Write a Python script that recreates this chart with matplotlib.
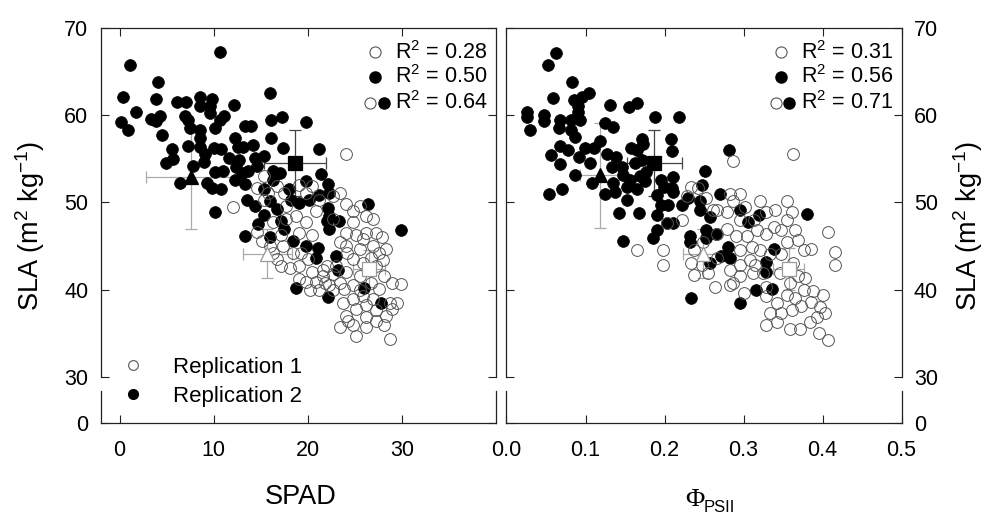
import matplotlib
matplotlib.use("Agg")
import matplotlib.pyplot as plt
from matplotlib.lines import Line2D

plt.rcParams["font.family"] = ["Liberation Sans", "DejaVu Sans"]
plt.rcParams["mathtext.fontset"] = "custom"
plt.rcParams["mathtext.rm"] = "Liberation Sans"
plt.rcParams["mathtext.it"] = "Liberation Sans:italic"
plt.rcParams["mathtext.bf"] = "Liberation Sans:bold"

# ---- SPAD panel, replication 1 (open) ----
spad_rep1 = [24.1, 12.1, 15.3, 15.8, 14.6, 15.3, 16.7, 17.5, 19.1, 19.8,
             20.5, 21.2, 22.7, 23.4, 24.1, 24.8, 25.5, 26.2, 26.9, 24.8,
             24.1, 25.1, 26.2, 27.3, 27.9, 28.3, 27.6, 26.9, 25.5, 24.1,
             24.8, 25.9, 27.3, 28.1, 29.0, 29.9, 29.5, 29.0, 28.3, 28.1,
             28.7, 27.3, 26.2, 25.1, 24.8, 23.4, 24.1, 25.1, 26.2, 26.9,
             25.9, 24.8, 23.7, 23.9, 24.8, 23.4, 22.3, 21.2, 20.2, 19.8,
             20.5, 21.6, 22.7, 22.0, 24.1, 23.0, 19.1, 18.1, 17.2, 16.3,
             17.4, 18.4, 19.3, 20.0, 15.1, 17.2, 19.1, 20.5, 19.8, 20.9,
             22.7, 17.7, 18.8, 16.3, 14.6, 17.7, 23.4, 24.2, 25.9, 26.7,
             28.0, 27.6, 26.7, 25.5, 28.7, 26.2, 27.3, 24.3, 25.5, 22.7,
             21.8, 19.1, 20.9, 21.6, 16.0, 16.7]
sla_spad_rep1 = [55.6, 49.5, 53.0, 51.1, 51.7, 50.3, 51.9, 51.1, 52.0, 51.1,
                 51.9, 50.3, 50.7, 51.1, 49.8, 49.0, 49.6, 48.4, 48.1, 47.7,
                 46.5, 46.2, 46.5, 46.5, 46.0, 44.6, 44.2, 45.0, 44.6, 45.0,
                 43.5, 43.1, 42.7, 41.6, 40.8, 40.6, 38.5, 37.8, 37.0, 35.9,
                 34.3, 36.4, 35.7, 34.7, 35.9, 35.7, 37.0, 37.8, 38.2, 38.9,
                 39.3, 38.9, 38.5, 40.1, 40.5, 40.8, 40.5, 40.0, 40.0, 40.9,
                 42.0, 41.6, 41.8, 42.7, 42.0, 42.7, 42.7, 42.5, 42.7, 44.2,
                 45.0, 44.2, 44.2, 43.5, 45.6, 46.2, 46.5, 46.3, 47.7, 49.0,
                 48.1, 48.1, 48.4, 47.7, 46.6, 49.6, 45.4, 44.2, 45.8, 43.6,
                 43.4, 40.1, 40.8, 41.6, 38.5, 36.9, 37.6, 36.4, 40.0, 39.9,
                 40.8, 41.2, 40.9, 42.2, 45.0, 43.5]

# ---- SPAD panel, replication 2 (filled) ----
spad_rep2 = [10.7, 1.1, 4.1, 0.4, 3.9, 1.7, 6.1, 7.1, 8.5, 8.6,
             9.8, 9.6, 12.2, 16.0, 17.3, 19.8, 16.1, 16.1, 0.2, 0.9,
             3.3, 4.3, 3.9, 4.5, 7.0, 7.3, 7.5, 8.6, 9.6, 10.7,
             11.1, 10.1, 5.6, 5.7, 4.9, 6.4, 7.3, 8.6, 8.5, 7.8,
             9.1, 9.0, 10.0, 10.1, 10.8, 11.0, 9.3, 9.8, 10.8, 10.1,
             11.6, 12.3, 12.6, 12.7, 12.4, 13.1, 13.3, 14.0, 13.0, 12.3,
             13.7, 14.2, 14.4, 14.6, 13.3, 13.5, 14.4, 15.3, 15.4, 15.3,
             14.7, 13.3, 16.3, 17.0, 16.3, 16.0, 16.7, 17.4, 17.2, 17.5,
             16.0, 18.0, 18.2, 19.1, 20.1, 19.8, 18.4, 19.8, 21.2, 21.4,
             22.1, 22.3, 21.2, 22.1, 22.3, 22.0, 22.3, 23.3, 21.1, 20.9,
             23.0, 23.2, 18.8, 22.2, 26.0, 27.8, 26.4, 29.9]
sla_spad_rep2 = [67.2, 65.8, 63.8, 62.1, 61.8, 60.4, 61.5, 61.5, 62.1, 61.1,
                 61.9, 61.0, 61.2, 62.5, 59.8, 59.2, 59.4, 57.4, 59.2, 58.3,
                 59.6, 59.9, 59.3, 57.7, 59.9, 59.5, 58.5, 58.3, 60.2, 59.5,
                 59.9, 58.5, 56.1, 55.0, 54.5, 52.2, 56.5, 57.4, 56.4, 54.2,
                 55.5, 54.6, 56.2, 53.5, 56.1, 53.6, 52.2, 51.6, 51.5, 48.9,
                 55.1, 57.4, 56.4, 54.9, 54.0, 56.4, 58.8, 58.8, 53.4, 52.6,
                 53.6, 56.6, 55.1, 54.2, 52.1, 50.3, 49.6, 55.3, 51.5, 48.6,
                 47.5, 46.1, 53.6, 53.4, 52.6, 50.2, 49.2, 56.2, 47.9, 46.9,
                 46.0, 51.5, 50.3, 49.9, 50.3, 52.4, 45.6, 45.0, 56.1, 53.2,
                 52.1, 51.1, 50.9, 49.4, 48.4, 47.9, 46.9, 47.9, 44.8, 43.6,
                 43.9, 42.2, 40.2, 39.1, 40.2, 38.5, 49.8, 46.8]

# ---- PhiPSII panel, replication 1 (open) ----
phi_rep1 = [0.363, 0.287, 0.283, 0.296, 0.321, 0.234, 0.243, 0.228, 0.266, 0.279,
            0.296, 0.313, 0.329, 0.340, 0.355, 0.361, 0.355, 0.348, 0.329, 0.317,
            0.304, 0.291, 0.279, 0.266, 0.296, 0.311, 0.321, 0.308, 0.296, 0.283,
            0.296, 0.312, 0.325, 0.348, 0.355, 0.376, 0.386, 0.407, 0.416, 0.416,
            0.346, 0.359, 0.369, 0.378, 0.376, 0.388, 0.401, 0.386, 0.397, 0.403,
            0.393, 0.384, 0.372, 0.395, 0.407, 0.359, 0.342, 0.348, 0.361, 0.373,
            0.333, 0.329, 0.342, 0.329, 0.355, 0.365, 0.287, 0.300, 0.283, 0.264,
            0.255, 0.247, 0.237, 0.234, 0.237, 0.249, 0.266, 0.198, 0.198, 0.165,
            0.203, 0.222, 0.262, 0.253, 0.287, 0.302, 0.338, 0.365, 0.369, 0.334,
            0.315, 0.329, 0.363]
sla_phi_rep1 = [55.5, 54.7, 51.0, 51.0, 50.1, 51.8, 51.6, 50.7, 49.1, 48.9,
                48.0, 48.0, 48.9, 49.1, 50.1, 48.9, 48.0, 46.8, 46.4, 46.8,
                46.1, 46.1, 47.0, 46.4, 44.5, 44.9, 44.5, 43.4, 42.8, 42.2,
                41.5, 41.9, 41.9, 44.1, 45.5, 44.5, 44.7, 46.6, 44.3, 42.8,
                41.9, 40.7, 41.5, 41.3, 39.9, 39.8, 39.4, 38.6, 38.0, 37.3,
                36.9, 36.3, 35.5, 35.0, 34.2, 35.5, 36.3, 37.3, 37.7, 38.1,
                37.3, 35.9, 38.4, 39.2, 39.4, 39.0, 40.7, 39.6, 40.5, 40.3,
                41.9, 42.8, 41.7, 43.0, 44.5, 45.5, 43.6, 44.5, 42.8, 44.5,
                47.6, 48.0, 49.1, 50.5, 50.1, 49.5, 47.2, 46.8, 45.7, 44.1,
                42.8, 40.3, 43.0]

# ---- PhiPSII panel, replication 2 (filled) ----
phi_rep2 = [0.063, 0.053, 0.083, 0.059, 0.085, 0.095, 0.104, 0.090, 0.091, 0.026,
            0.026, 0.030, 0.047, 0.047, 0.068, 0.066, 0.082, 0.093, 0.082, 0.087,
            0.068, 0.078, 0.056, 0.068, 0.092, 0.099, 0.106, 0.111, 0.087, 0.108,
            0.054, 0.070, 0.118, 0.125, 0.135, 0.131, 0.155, 0.165, 0.188, 0.218,
            0.208, 0.209, 0.172, 0.173, 0.158, 0.165, 0.127, 0.139, 0.146, 0.133,
            0.148, 0.156, 0.152, 0.135, 0.125, 0.137, 0.152, 0.165, 0.169, 0.175,
            0.177, 0.163, 0.171, 0.142, 0.168, 0.190, 0.196, 0.199, 0.211, 0.209,
            0.211, 0.196, 0.205, 0.222, 0.190, 0.203, 0.211, 0.190, 0.186, 0.148,
            0.230, 0.245, 0.247, 0.251, 0.270, 0.282, 0.245, 0.258, 0.232, 0.232,
            0.253, 0.253, 0.265, 0.258, 0.272, 0.281, 0.283, 0.296, 0.306, 0.319,
            0.296, 0.316, 0.336, 0.329, 0.329, 0.339, 0.381, 0.234]
sla_phi_rep2 = [67.1, 65.8, 63.8, 62.0, 61.7, 62.1, 62.5, 61.0, 60.4, 60.4,
                59.8, 58.3, 60.0, 59.3, 59.5, 58.5, 59.4, 59.4, 58.3, 57.5,
                56.5, 56.0, 55.4, 54.4, 55.2, 56.2, 54.5, 56.2, 53.1, 52.2,
                51.0, 51.5, 57.0, 59.1, 58.7, 61.2, 60.9, 61.4, 59.8, 59.8,
                57.3, 55.9, 57.3, 56.7, 56.2, 56.0, 55.6, 55.2, 54.1, 54.1,
                53.1, 52.6, 51.8, 52.2, 51.0, 51.2, 50.3, 51.5, 53.0, 52.4,
                53.5, 54.5, 54.9, 48.8, 48.8, 50.8, 52.6, 51.8, 52.9, 51.6,
                51.2, 49.7, 49.7, 49.7, 48.5, 47.6, 47.6, 46.8, 45.9, 45.6,
                50.5, 50.1, 52.0, 53.6, 51.0, 56.0, 49.1, 48.3, 46.1, 45.5,
                46.8, 45.9, 46.4, 43.1, 43.8, 44.9, 43.6, 49.1, 47.7, 48.5,
                38.4, 40.0, 40.1, 43.2, 42.0, 44.6, 48.7, 39.0]

# ---- means +/- sd: filled square, filled triangle, open triangle, open square ----
spad_mean = [18.6, 7.6, 15.7, 26.5]
spad_sd = [3.3, 4.8, 2.6, 1.7]
sla_spad_mean = [54.5, 52.9, 44.1, 42.4]
sla_spad_sd = [3.8, 6.0, 2.8, 2.1]
phi_mean = [0.187, 0.118, 0.249, 0.357]
phi_sd = [0.035, 0.025, 0.026, 0.020]
sla_phi_mean = [54.5, 53.1, 44.1, 42.4]
sla_phi_sd = [3.8, 6.0, 2.8, 2.4]

r2_spad = ["0.28", "0.50", "0.64"]
r2_phi = ["0.31", "0.56", "0.71"]

W, H = 995, 517
fig = plt.figure(figsize=(W / 100, H / 100), dpi=100)

up_y0, up_h = 1 - 376.7 / H, 348.7 / H
lo_y0, lo_h = 1 - 423.3 / H, 32.6 / H
axLb = fig.add_axes([100.7 / W, lo_y0, 395.3 / W, lo_h])
axRb = fig.add_axes([506.5 / W, lo_y0, 395.0 / W, lo_h])
axL = fig.add_axes([100.7 / W, up_y0, 395.3 / W, up_h])
axR = fig.add_axes([506.5 / W, up_y0, 395.0 / W, up_h])

spine_col = "#222222"
open_edge = "#555555"
grey = "#aaaaaa"
tick_kw = dict(direction="in", length=5.5, width=0.8, color=spine_col, labelsize=15.5)


def setup(ax, axb, xlim, xticks, xlabels, label_side):
    for a in (ax, axb):
        a.set_xlim(xlim)
        a.set_xticks(xticks)
        a.patch.set_visible(False)
        for s in a.spines.values():
            s.set_color(spine_col)
            s.set_linewidth(0.9)
    ax.spines["bottom"].set_visible(False)
    axb.spines["top"].set_visible(False)
    ax.set_ylim(30, 70)
    ax.set_yticks([30, 40, 50, 60, 70])
    axb.set_ylim(0, 3.74)
    axb.set_yticks([0])
    left_lab = label_side == "left"
    ax.tick_params(axis="y", left=True, right=True, labelleft=left_lab,
                   labelright=not left_lab, pad=9, **tick_kw)
    axb.tick_params(axis="y", left=True, right=True, labelleft=left_lab,
                    labelright=not left_lab, pad=9, **tick_kw)
    ax.tick_params(axis="x", bottom=False, top=True, labelbottom=False, **tick_kw)
    axb.tick_params(axis="x", bottom=True, top=False, pad=12, **tick_kw)
    axb.set_xticklabels(xlabels)


def draw(ax, x1, y1, x2, y2, mx, mxe, my, mye, r2):
    ax.plot(x2, y2, "o", ms=8.5, mfc="black", mec="black", mew=0.5, zorder=2)
    ax.plot(x1, y1, "o", ms=8.5, mfc="none", mec=open_edge, mew=0.7, zorder=2.5)
    styles = [("s", "black", "black", "#444444"),
              ("^", "black", "black", grey),
              ("^", "white", "#999999", grey),
              ("s", "white", "#999999", grey)]
    for i, (m, fc, ec, err_c) in enumerate(styles):
        ax.errorbar(mx[i], my[i], xerr=mxe[i], yerr=mye[i], fmt="none",
                    ecolor=err_c, elinewidth=0.9, capsize=4, capthick=0.9, zorder=1)
        ax.plot(mx[i], my[i], m, ms=10, mfc=fc, mec=ec, mew=0.9, zorder=3)
    # R^2 key, top right
    rows = [0.931, 0.860, 0.785]
    ax.plot(0.695, rows[0], "o", ms=8, mfc="white", mec=open_edge, mew=0.8,
            transform=ax.transAxes, clip_on=False)
    ax.plot(0.695, rows[1], "o", ms=8, mfc="black", mec="black",
            transform=ax.transAxes, clip_on=False)
    ax.plot(0.682, rows[2], "o", ms=8, mfc="white", mec=open_edge, mew=0.8,
            transform=ax.transAxes, clip_on=False)
    ax.plot(0.716, rows[2], "o", ms=8, mfc="black", mec="black",
            transform=ax.transAxes, clip_on=False)
    for yy, val in zip(rows, r2):
        ax.text(0.745, yy, "R$^2$ = " + val, transform=ax.transAxes,
                ha="left", va="center", fontsize=15.5)


setup(axL, axLb, (-2, 40), [0, 10, 20, 30], ["0", "10", "20", "30"], "left")
setup(axR, axRb, (0, 0.5), [0.0, 0.1, 0.2, 0.3, 0.4, 0.5],
      ["0.0", "0.1", "0.2", "0.3", "0.4", "0.5"], "right")

draw(axL, spad_rep1, sla_spad_rep1, spad_rep2, sla_spad_rep2,
     spad_mean, spad_sd, sla_spad_mean, sla_spad_sd, r2_spad)
draw(axR, phi_rep1, sla_phi_rep1, phi_rep2, sla_phi_rep2,
     phi_mean, phi_sd, sla_phi_mean, sla_phi_sd, r2_phi)

# legend for replications
handles = [Line2D([], [], ls="none", marker="o", ms=7, mfc="white", mec=open_edge, mew=0.8),
           Line2D([], [], ls="none", marker="o", ms=7, mfc="black", mec="black")]
axL.legend(handles, ["Replication 1", "Replication 2"], loc="center left",
           bbox_to_anchor=(121.7 / W, 1 - 382 / H), bbox_transform=fig.transFigure,
           frameon=False, fontsize=16, handlelength=1.0, handletextpad=1.33,
           labelspacing=0.35, borderpad=0, borderaxespad=0)

# axis labels
sla_label = "SLA (m$^2$ kg$^{-1}$)"
fig.text(30 / W, 1 - 226 / H, sla_label, rotation=90, ha="center", va="center", fontsize=19.5)
fig.text(968 / W, 1 - 226 / H, sla_label, rotation=90, ha="center", va="center", fontsize=19.5)
fig.text(301 / W, 1 - 497 / H, "SPAD", ha="center", va="center", fontsize=19.5)
fig.text(695 / W, 1 - 500 / H, "\u03a6", ha="center", va="center", fontsize=19,
         family=["Liberation Serif", "DejaVu Serif"])
fig.text(704 / W, 1 - 508 / H, "PSII", ha="left", va="center", fontsize=12)

fig.savefig("out.png", dpi=100)
